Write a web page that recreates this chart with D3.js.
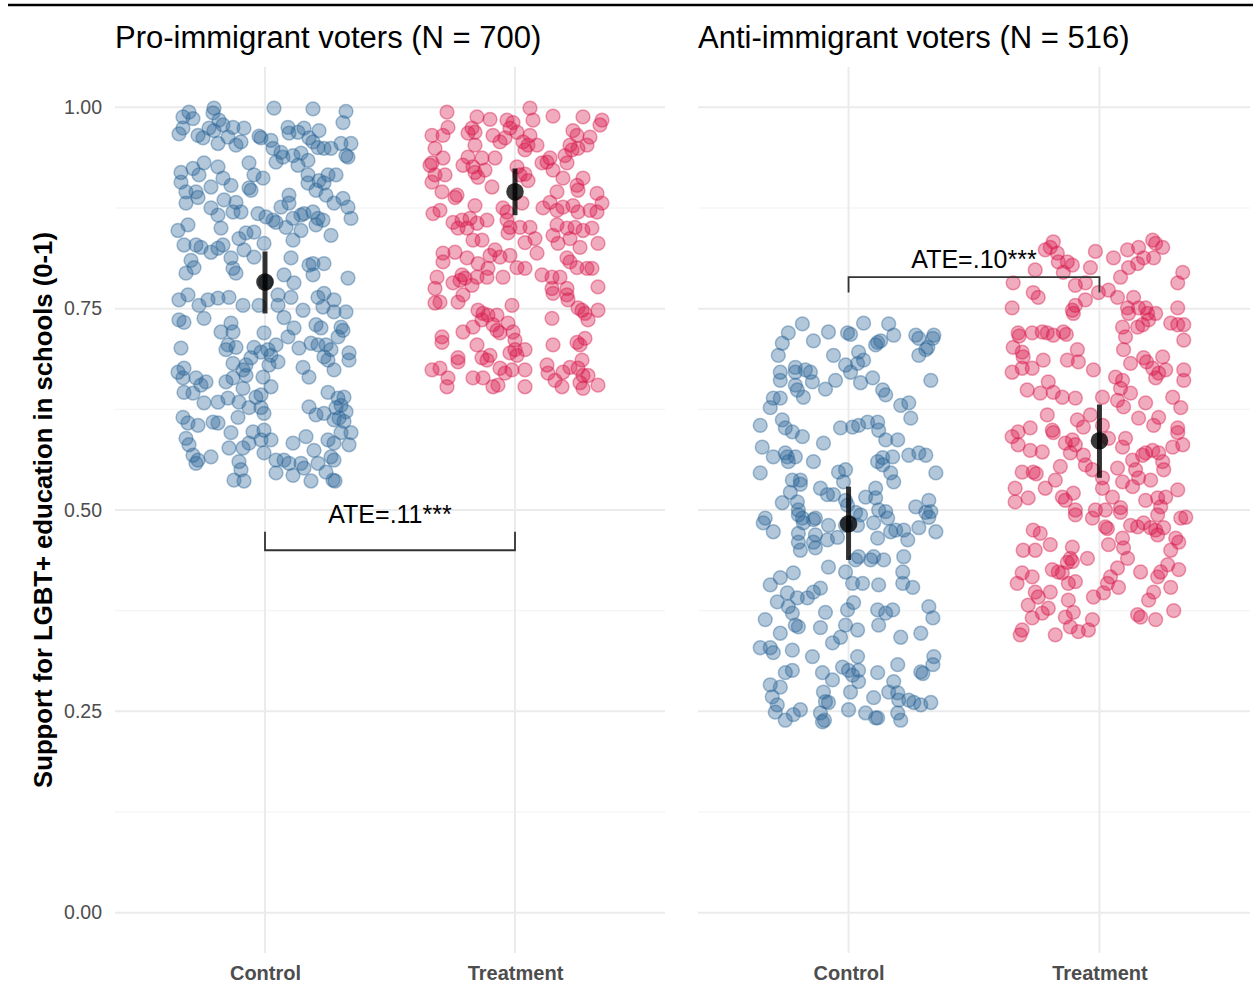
<!DOCTYPE html>
<html><head><meta charset="utf-8">
<script src="https://cdn.jsdelivr.net/npm/d3@7"></script>
<style>body{margin:0;background:#fff}svg{display:block;font-family:"Liberation Sans",Arial,Helvetica,sans-serif}</style>
</head><body><svg id="c" width="1253" height="995"></svg>
<script>
// ---- DATA (each point: [horizontal jitter in thousandths of a category step, value in thousandths]) ----
const panelTitles = ["Pro-immigrant voters (N = 700)", "Anti-immigrant voters (N = 516)"];
const conditions = ["Control", "Treatment"];
const yTickValues = [0, 0.25, 0.5, 0.75, 1];
const yMinorValues = [0.125, 0.375, 0.625, 0.875];
const yAxisTitle = "Support for LGBT+ education in schools (0-1)";

const proControl = [
[-304,994],[-328,988],[-288,986],[-204,999],[-208,993],[-184,984],[36,999],[192,998],[324,995],[312,981],
[-344,967],[-328,974],[-268,965],[-248,962],[-224,974],[-204,971],[-168,978],[-128,975],[-84,974],[-188,955],
[-148,963],[-116,953],[-96,957],[-24,964],[-16,962],[24,959],[92,975],[96,968],[132,969],[156,974],
[216,971],[176,962],[192,957],[212,950],[236,949],[264,949],[304,955],[344,955],[324,940],[332,938],
[32,949],[64,944],[72,938],[44,932],[112,940],[132,928],[172,934],[144,943],[-64,931],[-44,916],
[-8,912],[-336,919],[-336,907],[-288,924],[-264,916],[-244,931],[-188,926],[-168,912],[-136,903],[-216,901],
[-316,895],[-276,895],[-268,888],[-316,881],[-64,900],[-56,897],[-164,885],[-116,882],[172,916],[172,906],
[216,909],[236,906],[252,916],[284,916],[204,897],[244,891],[276,881],[312,887],[332,876],[344,862],
[-216,875],[-188,866],[-128,870],[-96,870],[-28,868],[4,864],[32,860],[44,857],[64,876],[96,891],
[96,881],[84,851],[112,862],[144,866],[156,868],[192,870],[212,862],[232,860],[204,854],[144,847],
[112,835],[264,841],[-348,847],[-308,854],[-176,850],[-324,829],[-276,829],[-256,826],[-216,820],[-188,825],
[-168,829],[-104,837],[-76,844],[-44,845],[-84,823],[-4,831],[-296,810],[-284,801],[-136,813],[-128,800],
[-44,814],[-316,794],[-116,794],[104,813],[176,804],[192,806],[236,806],[192,792],[76,792],[116,782],
[332,788],[4,783],
[-344,761],[-308,767],[-264,754],[-228,761],[-188,763],[-144,764],[-88,754],[-24,754],[52,754],[52,767],
[104,764],[152,748],[212,764],[236,769],[232,752],[276,761],[276,746],[324,746],[-344,736],[-324,733],
[-244,738],[-176,721],[-136,732],[-128,721],[-148,705],[-156,699],[-116,702],[-4,720],[76,739],[116,726],
[92,715],[44,705],[-44,702],[-16,696],[12,699],[24,692],[52,684],[-56,689],[-76,680],[-88,674],
[-76,667],[-128,682],[-8,665],[16,680],[204,730],[224,726],[304,727],[312,723],[292,715],[184,707],
[136,701],[212,705],[244,705],[264,699],[236,690],[252,686],[276,674],[152,677],[176,665],[336,695],
[336,686],[-336,701],[-348,671],[-324,676],[-328,664],[-276,664],[-256,655],[-236,659],[-324,646],[-288,645],
[-156,659],[-128,664],[-88,651],[-16,643],[24,653],[-36,640],[-148,639],[-188,634],[-244,633],[-104,634],
[-64,627],[-16,627],[-4,620],[-108,615],[252,646],[292,639],[316,640],[304,630],[284,627],[324,622],
[296,614],[276,612],[316,610],[204,618],[236,620],[176,628],[304,596],[344,596],[336,581],[-328,615],
[-308,608],[-268,605],[-208,609],[-188,608],[-316,589],[-304,581],[-288,568],[-268,562],[-276,558],[-216,566],
[-136,596],[-144,577],[-88,577],[-64,583],[-48,597],[-4,599],[-16,587],[24,587],[-4,571],[-104,560],
[-96,550],[-124,537],[-84,536],[44,562],[44,546],[76,562],[96,558],[112,543],[144,558],[156,552],
[112,583],[164,591],[196,574],[212,558],[252,587],[276,583],[264,566],[276,562],[244,547],[184,536],
[272,537],[280,536]
];

const proTreatment = [
[-272,994],[-152,988],[-100,985],[-32,984],[-8,981],[60,999],[72,984],[152,989],[272,988],[348,984],
[340,978],[-268,975],[-332,965],[-288,965],[-172,974],[-160,969],[-188,968],[-88,965],[-60,957],[-40,962],
[-20,974],[8,969],[32,957],[52,953],[88,953],[40,947],[60,965],[232,971],[248,965],[300,963],
[288,953],[220,953],[228,947],[252,949],[-160,953],[-320,949],[-288,937],[-340,928],[-332,931],[-320,916],
[-280,916],[-332,907],[-292,895],[-232,891],[-240,888],[-208,928],[-188,938],[-168,926],[-132,937],[-120,922],
[-160,919],[-148,913],[-80,937],[-92,901],[8,926],[20,916],[52,909],[40,917],[108,931],[128,932],
[140,937],[152,922],[200,940],[208,931],[248,903],[252,897],[272,912],[192,912],[168,895],[328,893],
[348,881],[-328,868],[-300,872],[-160,878],[-48,875],[-32,870],[28,881],[112,875],[140,882],[168,872],
[192,876],[232,878],[252,870],[300,872],[328,870],[-248,857],[-212,860],[-180,862],[-152,856],[-112,860],
[-228,850],[-192,850],[-32,860],[-20,851],[20,851],[60,851],[80,837],[40,832],[-168,835],[-132,835],
[-28,844],[168,854],[208,850],[240,851],[272,847],[308,850],[152,841],[172,831],[220,837],[260,826],
[332,831],[88,819],[-288,819],[-240,820],[-312,789],[-288,808],[-192,813],[-148,806],[-100,816],[-80,823],
[-60,814],[-20,816],[-108,800],[-212,792],[-220,785],[-200,788],[-152,789],[-112,789],[-48,789],[8,801],
[40,800],[108,792],[148,789],[180,789],[208,813],[220,808],[248,801],[288,800],[308,800],[332,777],
[-320,775],[-248,782],[-172,779],[148,775],[208,775],
[-320,757],[-300,758],[-228,758],[-208,767],[-12,754],[152,769],[208,767],[212,761],[268,748],[280,744],
[292,736],[332,748],[252,751],[148,738],[-148,748],[-128,744],[-108,742],[-72,742],[-132,736],[-168,727],
[-208,721],[-88,730],[-72,723],[-60,720],[-28,732],[-8,721],[0,711],[-292,715],[-292,708],[-152,705],
[0,699],[-20,695],[8,692],[40,699],[-100,692],[-132,689],[-112,686],[-228,689],[-228,684],[-332,674],
[-300,676],[-268,664],[-272,653],[-168,664],[-128,664],[-60,676],[-40,670],[-12,674],[40,674],[-88,653],
[-68,655],[40,653],[152,705],[248,708],[260,705],[280,713],[268,686],[128,680],[132,670],[160,661],
[188,653],[192,671],[220,677],[252,676],[272,667],[292,667],[260,658],[272,651],[332,655]
];

const antiControl = [
[-184,731],[-240,720],[-264,707],[-140,710],[-80,721],[-4,720],[8,718],[60,732],[160,731],[180,717],
[116,708],[108,705],[128,710],[268,717],[280,713],[340,717],[336,713],[316,702],[308,699],[280,692],
[-280,692],[-60,692],[40,696],[60,686],[36,682],[-12,680],[8,671],[-272,671],[-272,661],[-212,677],
[-212,671],[-172,674],[-152,671],[-212,655],[-204,649],[-180,640],[-144,659],[-92,650],[-52,661],[48,658],
[96,664],[136,649],[148,643],[328,661],[208,630],[240,633],[248,614],[-300,639],[-312,627],[-272,639],
[-352,605],[-264,612],[-252,602],[-224,597],[-184,591],[-100,583],[-32,602],[16,603],[40,605],[76,609],
[116,609],[120,599],[148,587],[196,587],[-344,578],[-300,566],[-244,566],[-240,560],[-212,566],[-252,571],
[-140,560],[136,565],[176,566],[116,560],[136,556],[240,568],[280,571],[308,568],[168,546],[180,535],
[348,546],[-352,546],[-40,547],[-12,550],[-20,535],[-224,537],[-192,537],[-192,532],[-232,522],[-112,527],
[-84,519],[-60,519],[108,527],[68,516],[108,515],[-264,509],[-204,510],[-200,500],[-12,512],[-4,506],
[268,504],[320,512],[328,498],[308,497],[-332,490],[-184,490],[-132,490],[28,497],[48,494],[120,500],
[148,498],
[-340,484],[-300,473],[-200,494],[-180,484],[-200,471],[-200,460],[-192,450],[-140,488],[-132,469],[-140,460],
[-132,453],[-80,481],[-84,463],[-44,466],[-12,481],[36,481],[100,484],[156,490],[168,473],[188,475],
[220,475],[236,463],[116,465],[280,478],[320,491],[348,473],[28,438],[40,442],[88,438],[100,442],
[140,438],[220,442],[216,423],[216,409],[256,404],[-80,429],[-12,423],[16,409],[56,409],[120,407],
[-220,422],[-272,416],[-312,407],[-244,397],[-204,391],[-284,386],[-240,380],[-224,372],[-164,391],[-140,398],
[-112,403],[-92,373],[-4,376],[20,385],[-212,357],[-200,355],[-112,354],[-12,357],[36,351],[-32,342],
[-64,335],[-332,364],[-272,347],[116,376],[148,372],[176,376],[120,357],[208,342],[288,347],[320,380],
[336,366],[-352,329],[-312,329],[-300,323],[-224,326],[-144,318],[36,318],[-252,298],[-224,301],[-104,298],
[-64,289],[-24,305],[0,301],[16,295],[40,301],[40,287],[116,298],[196,308],[180,287],[288,299],
[296,297],[336,308],[340,318],[-312,283],[-272,280],[-304,268],[-284,258],[-292,249],[-252,239],[-220,246],
[-192,252],[-100,274],[-92,262],[-80,261],[-112,248],[-104,237],[-96,239],[8,274],[0,252],[100,267],
[68,248],[108,242],[116,242],[160,274],[196,273],[200,264],[240,264],[260,261],[288,258],[328,261],
[196,248],[208,239]
];

const antiTreatment = [
[-184,833],[-196,826],[-216,823],[-168,819],[-164,808],[-128,808],[-108,804],[-144,795],[-36,801],[-16,821],
[56,813],[112,823],[156,826],[212,835],[224,831],[252,826],[216,813],[176,813],[152,806],[116,801],
[84,789],[332,795],[312,782],[-256,798],[-344,782],[-264,770],[-244,764],[-96,779],[-56,782],[-4,770],
[36,773],[72,764],[136,764],[-56,761],[-348,751],[-108,748],[-96,754],[-104,744],[112,751],[116,744],
[156,751],[184,751],[192,744],[224,744],[196,736],[172,730],[152,727],[92,727],[104,715],[312,751],
[284,732],[312,730],[336,730],[336,711],[-324,720],[-320,716],[-268,720],[-228,721],[-208,720],[-184,717],
[-144,721],[-132,718],[-344,702],[-308,696],[-304,690],[-308,676],[-348,671],[-268,676],[-224,686],[-128,686],
[-88,699],[-84,684],[-24,674],[96,699],[124,682],[176,689],[188,684],[252,690],[212,676],[236,670],
[264,674],[224,664],[336,674],[336,661],[64,665],[92,661],[84,651],[-204,659],[-288,649],[-236,645],
[-184,646],[-148,640],[-96,639],[12,640],[124,645],[72,636],[96,628],[184,633],[292,640],[324,627],
[-208,618],[-88,612],[-36,618],[156,614],[236,615],[216,605],[312,602],[-276,602],[-324,597],[-188,599],
[-64,603],[12,605],
[-348,591],[-324,581],[-276,574],[-228,572],[-184,596],[-136,583],[-108,587],[-96,581],[-116,571],[-64,568],
[-56,556],[-28,550],[36,589],[92,578],[104,589],[132,562],[144,550],[172,568],[184,571],[212,574],
[236,571],[252,560],[256,550],[292,578],[332,581],[312,596],[156,540],[132,529],[204,537],[72,552],
[92,535],[12,540],[12,527],[52,516],[-308,547],[-264,547],[-252,545],[-176,537],[-156,554],[-216,527],
[-336,527],[-336,510],[-284,515],[-148,516],[-136,512],[-104,521],[-96,500],[-96,494],[-16,500],[-28,490],
[24,500],[84,503],[84,497],[24,479],[32,477],[124,481],[152,479],[176,484],[204,478],[224,475],
[256,478],[232,469],[232,494],[244,504],[184,512],[232,515],[264,516],[312,525],[324,490],[344,491],
[-264,475],[-236,471],[-304,450],[-256,450],[-196,457],[-108,454],[-116,440],[-108,436],[-128,435],[-48,440],
[36,457],[92,465],[96,453],[112,440],[304,465],[316,460],[284,450],[272,432],[316,426],[164,423],
[244,423],[232,417],[72,428],[44,417],[32,409],[16,397],[-24,392],[76,404],[-188,426],[-164,423],
[-148,422],[-96,411],[-124,409],[-308,422],[-328,409],[-268,417],[-256,398],[-244,392],[-284,382],[-196,398],
[-204,378],[-228,372],[-268,366],[-124,388],[-104,373],[-136,367],[-116,355],[-84,349],[-28,364],[-44,351],
[-176,345],[-308,351],[-316,345],[196,388],[216,398],[284,404],[296,375],[152,370],[164,367],[224,364]
];

// group means with 95% CI: [mean, low, high]
const proMeans  = [[0.783, 0.744, 0.821], [0.895, 0.866, 0.924]];
const antiMeans = [[0.483, 0.438, 0.529], [0.586, 0.540, 0.631]];
const ateLabels = ["ATE=.11***", "ATE=.10***"];
// bracket: [level of horizontal bar, level of tick ends, level of label baseline]
const ateBrackets = [[0.450, 0.473, 0.484], [0.789, 0.770, 0.801]];

// ---- DRAW ----
const svg = d3.select("#c");
const colors = ["#2a6595", "#d7174a"];
const panelRanges = [[115, 665], [698, 1250]];
const y = d3.scaleLinear().domain([-0.05, 1.05]).range([953, 67]);
const pointsByPanel = [[proControl, proTreatment], [antiControl, antiTreatment]];
const meansByPanel = [proMeans, antiMeans];

// top rule
svg.append("line").attr("x1", 8).attr("x2", 1253).attr("y1", 5).attr("y2", 5)
  .attr("stroke", "#000").attr("stroke-width", 2.6);

panelTitles.forEach((title, p) => {
  const x = d3.scaleLinear().domain([0.4, 2.6]).range(panelRanges[p]);
  const g = svg.append("g");

  // grid
  g.selectAll(".minor").data(yMinorValues).join("line")
    .attr("x1", panelRanges[p][0]).attr("x2", panelRanges[p][1])
    .attr("y1", d => y(d)).attr("y2", d => y(d))
    .attr("stroke", "#f1f1f1").attr("stroke-width", 1.1);
  g.selectAll(".major").data(yTickValues).join("line")
    .attr("x1", panelRanges[p][0]).attr("x2", panelRanges[p][1])
    .attr("y1", d => y(d)).attr("y2", d => y(d))
    .attr("stroke", "#ebebeb").attr("stroke-width", 2);
  g.selectAll(".vgrid").data([1, 2]).join("line")
    .attr("x1", d => x(d)).attr("x2", d => x(d))
    .attr("y1", y.range()[1]).attr("y2", y.range()[0])
    .attr("stroke", "#ebebeb").attr("stroke-width", 2);

  // title
  svg.append("text").attr("x", panelRanges[p][0]).attr("y", 48)
    .attr("font-size", 31).attr("fill", "#000").text(title);

  // x axis labels
  const xAxis = d3.axisBottom(x).tickValues([1, 2])
    .tickFormat(d => conditions[d - 1]).tickSize(0).tickPadding(13);
  const ax = svg.append("g").attr("transform", `translate(0,${y.range()[0]})`).call(xAxis);
  ax.select(".domain").remove();
  ax.selectAll("text").attr("font-size", 20).attr("font-weight", "bold")
    .attr("fill", "#4d4d4d").attr("font-family", "Liberation Sans, Arial, sans-serif");

  // y axis labels (left panel only)
  if (p === 0) {
    const yAxis = d3.axisLeft(y).tickValues(yTickValues).tickFormat(d3.format(".2f"))
      .tickSize(0).tickPadding(13);
    const ay = svg.append("g").attr("transform", `translate(${panelRanges[0][0]},0)`).call(yAxis);
    ay.select(".domain").remove();
    ay.selectAll("text").attr("font-size", 19.5).attr("fill", "#4d4d4d")
      .attr("font-family", "Liberation Sans, Arial, sans-serif");
  }

  // jittered points
  pointsByPanel[p].forEach((pts, c) => {
    g.append("g").selectAll("circle").data(pts).join("circle")
      .attr("cx", d => x(c + 1 + d[0] / 1000))
      .attr("cy", d => y(d[1] / 1000))
      .attr("r", 6.9)
      .attr("fill", colors[c]).attr("fill-opacity", 0.36)
      .attr("stroke", colors[c]).attr("stroke-opacity", 0.42).attr("stroke-width", 1.5);
  });

  // means + CI
  meansByPanel[p].forEach((m, c) => {
    g.append("line").attr("x1", x(c + 1)).attr("x2", x(c + 1))
      .attr("y1", y(m[1])).attr("y2", y(m[2]))
      .attr("stroke", "#000").attr("stroke-opacity", 0.8).attr("stroke-width", 5);
    g.append("circle").attr("cx", x(c + 1)).attr("cy", y(m[0])).attr("r", 8.8)
      .attr("fill", "#000").attr("fill-opacity", 0.78);
  });

  // ATE bracket
  const b = ateBrackets[p];
  g.append("path")
    .attr("d", `M${x(1)},${y(b[1])}V${y(b[0])}H${x(2)}V${y(b[1])}`)
    .attr("fill", "none").attr("stroke", "#333").attr("stroke-width", 1.8);
  g.append("text").attr("x", x(1.5)).attr("y", y(b[2]))
    .attr("text-anchor", "middle").attr("font-size", 25).attr("fill", "#000")
    .text(ateLabels[p]);
});

// y axis title
svg.append("text")
  .attr("transform", `translate(52,${(y(0) + y(1)) / 2}) rotate(-90)`)
  .attr("text-anchor", "middle").attr("font-size", 25.7).attr("font-weight", "bold")
  .attr("fill", "#000").text(yAxisTitle);
</script>
</body></html>
